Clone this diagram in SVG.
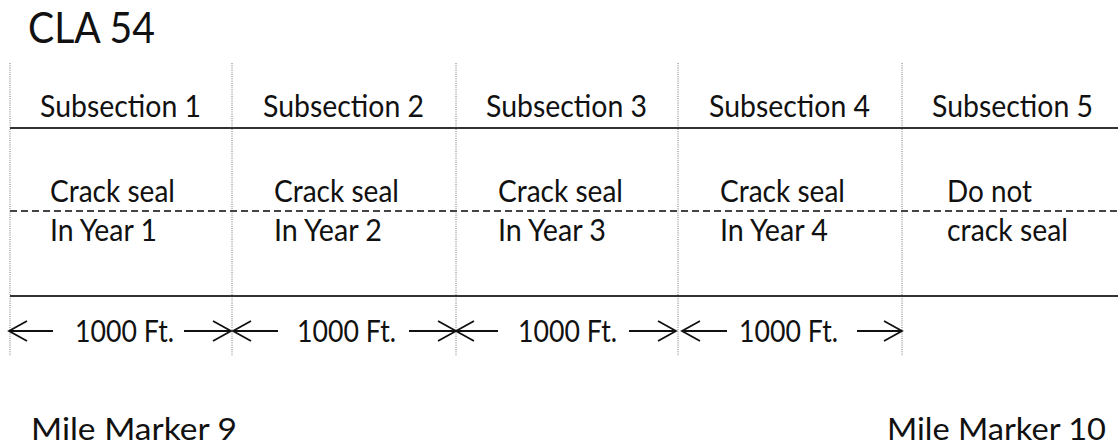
<svg xmlns="http://www.w3.org/2000/svg" width="1118" height="448" viewBox="0 0 1118 448">
<style>
text{font-family:Lato,"Open Sans",sans-serif;fill:#111}
.t{font-size:30.5px}
.title{font-size:42px}
.dot{stroke:#777;stroke-width:1;stroke-dasharray:1 1.2;fill:none}
.solid{stroke:#333;stroke-width:2;fill:none}
.dash{stroke:#444;stroke-width:2;stroke-dasharray:7 4;fill:none}
.arr{stroke:#111;stroke-width:1.8;fill:none;stroke-linejoin:miter}
</style>
<rect width="1118" height="448" fill="#fff"/>
<text class="title" x="28" y="43" textLength="127" lengthAdjust="spacingAndGlyphs">CLA 54</text>
<g id="connectors">
<line class="dot" x1="10" y1="63" x2="10" y2="356"/>
<line class="dot" x1="232" y1="63" x2="232" y2="356"/>
<line class="dot" x1="456" y1="63" x2="456" y2="356"/>
<line class="dot" x1="678" y1="63" x2="678" y2="356"/>
<line class="dot" x1="902" y1="63" x2="902" y2="356"/>
<line class="solid" x1="10" y1="128" x2="1118" y2="128"/>
<line class="dash" x1="10" y1="211" x2="1118" y2="211"/>
<line class="solid" x1="10" y1="296" x2="1118" y2="296"/>
<path class="arr" d="M9 331H53M27 321L9 331L27 341"/>
<path class="arr" d="M184 331H231M213 321L231 331L213 341"/>
<path class="arr" d="M233 331H278M251 321L233 331L251 341"/>
<path class="arr" d="M409 331H456M438 321L456 331L438 341"/>
<path class="arr" d="M456 331H498M474 321L456 331L474 341"/>
<path class="arr" d="M629 331H676M658 321L676 331L658 341"/>
<path class="arr" d="M682 331H727M700 321L682 331L700 341"/>
<path class="arr" d="M857 331H902M884 321L902 331L884 341"/>
</g>
<g id="sub1">
<text class="t" x="40" y="117" textLength="161" lengthAdjust="spacingAndGlyphs">Subsection 1</text>
<text class="t" x="50" y="202" textLength="125" lengthAdjust="spacingAndGlyphs">Crack seal</text>
<text class="t" x="50" y="241" textLength="107" lengthAdjust="spacingAndGlyphs">In Year 1</text>
<text class="t" x="75" y="342" textLength="99" lengthAdjust="spacingAndGlyphs">1000 Ft.</text>
</g>
<g id="sub2">
<text class="t" x="263" y="117" textLength="161" lengthAdjust="spacingAndGlyphs">Subsection 2</text>
<text class="t" x="274" y="202" textLength="125" lengthAdjust="spacingAndGlyphs">Crack seal</text>
<text class="t" x="274" y="241" textLength="108" lengthAdjust="spacingAndGlyphs">In Year 2</text>
<text class="t" x="297" y="342" textLength="99" lengthAdjust="spacingAndGlyphs">1000 Ft.</text>
</g>
<g id="sub3">
<text class="t" x="486" y="117" textLength="161" lengthAdjust="spacingAndGlyphs">Subsection 3</text>
<text class="t" x="498" y="202" textLength="125" lengthAdjust="spacingAndGlyphs">Crack seal</text>
<text class="t" x="498" y="241" textLength="108" lengthAdjust="spacingAndGlyphs">In Year 3</text>
<text class="t" x="518" y="342" textLength="99" lengthAdjust="spacingAndGlyphs">1000 Ft.</text>
</g>
<g id="sub4">
<text class="t" x="709" y="117" textLength="161" lengthAdjust="spacingAndGlyphs">Subsection 4</text>
<text class="t" x="720" y="202" textLength="125" lengthAdjust="spacingAndGlyphs">Crack seal</text>
<text class="t" x="720" y="241" textLength="108" lengthAdjust="spacingAndGlyphs">In Year 4</text>
<text class="t" x="739" y="342" textLength="99" lengthAdjust="spacingAndGlyphs">1000 Ft.</text>
</g>
<g id="sub5">
<text class="t" x="932" y="117" textLength="161" lengthAdjust="spacingAndGlyphs">Subsection 5</text>
<text class="t" x="947" y="202" textLength="85" lengthAdjust="spacingAndGlyphs">Do not</text>
<text class="t" x="947" y="241" textLength="121" lengthAdjust="spacingAndGlyphs">crack seal</text>
</g>
<g id="markers">
<text class="t" x="31" y="440" textLength="206" lengthAdjust="spacingAndGlyphs">Mile Marker 9</text>
<text class="t" x="887" y="440" textLength="219" lengthAdjust="spacingAndGlyphs">Mile Marker 10</text>
</g>
</svg>
